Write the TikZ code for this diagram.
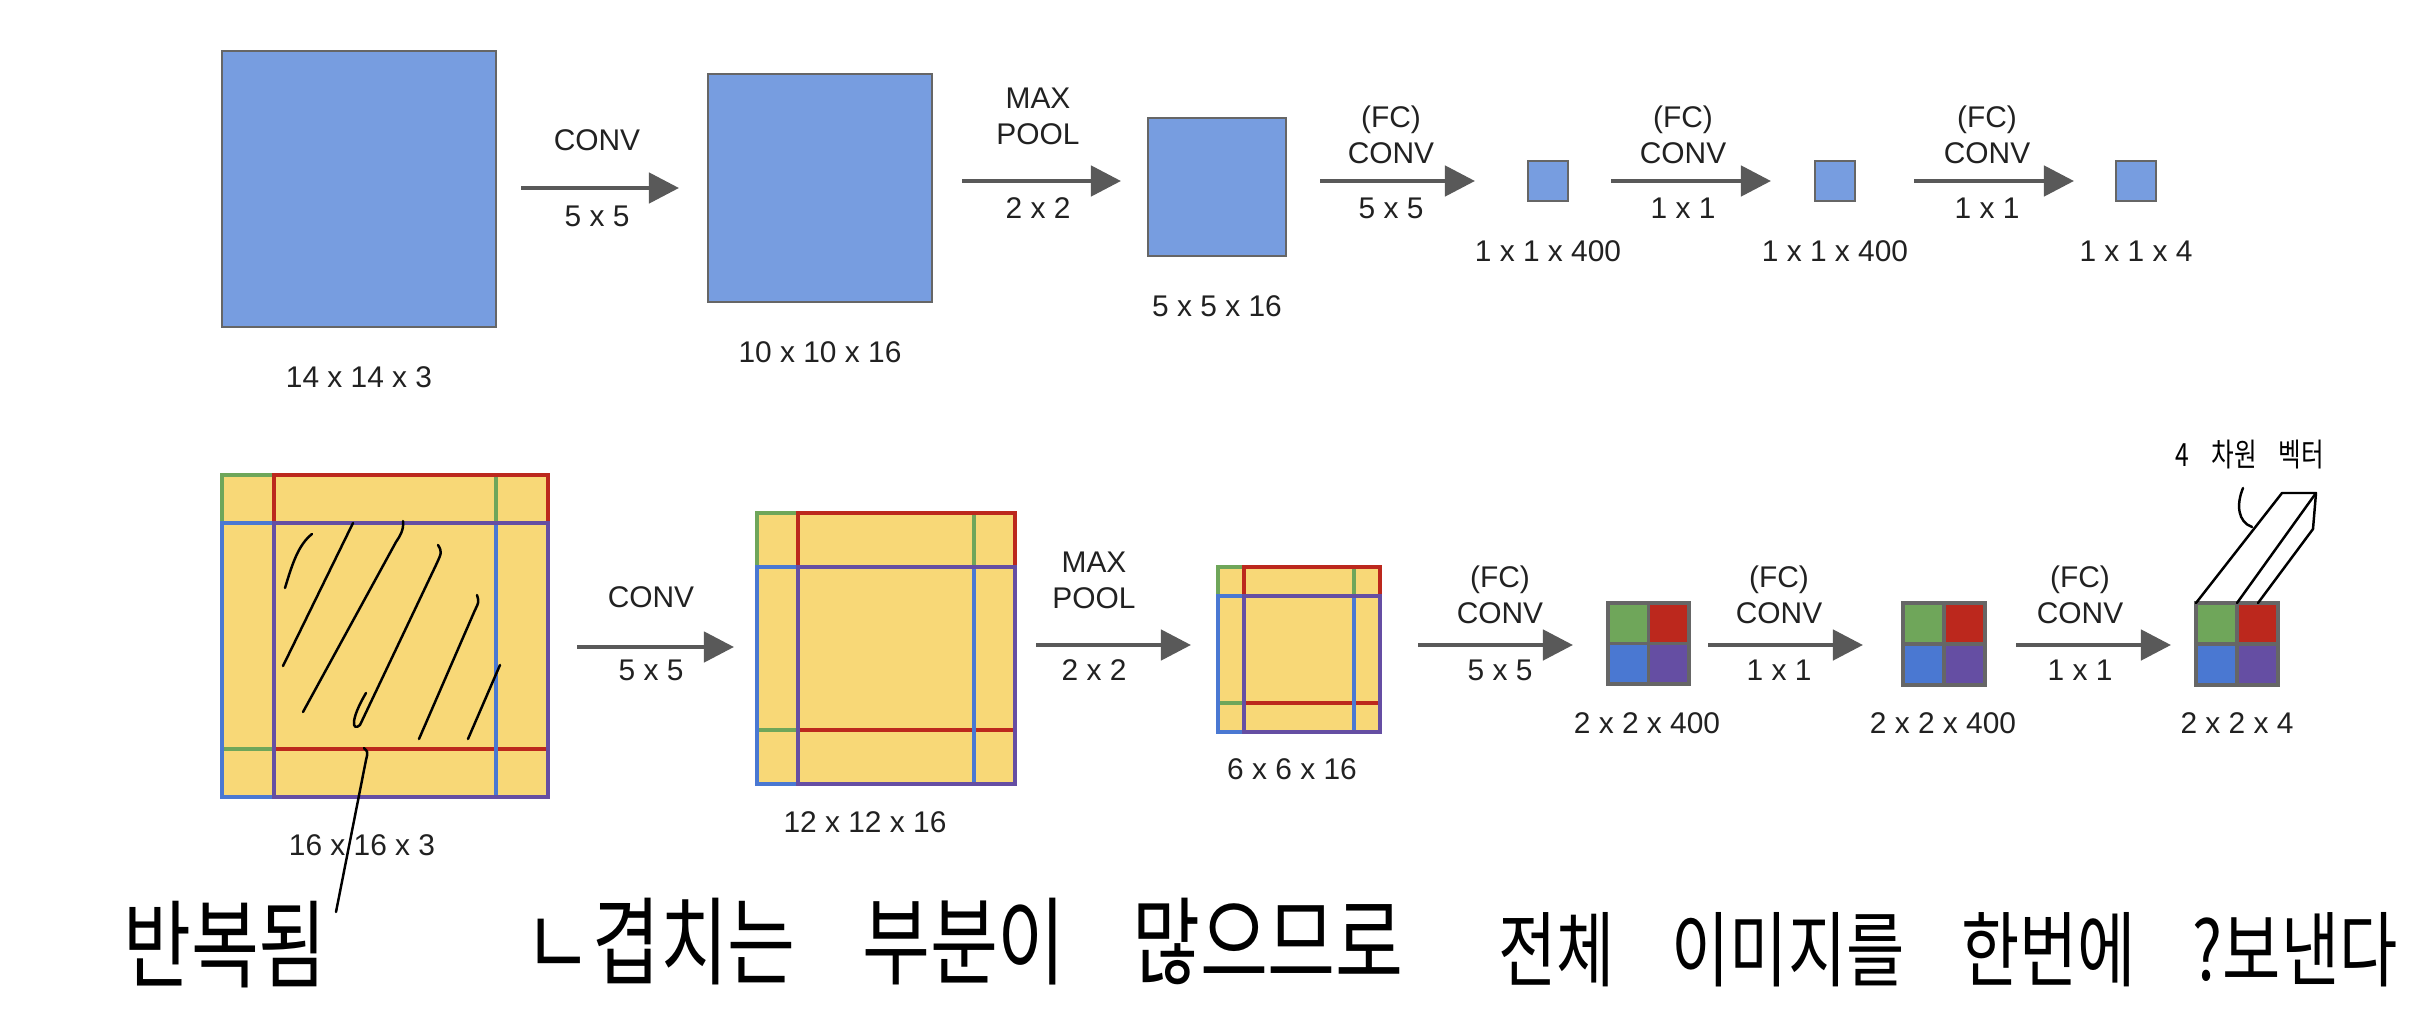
\documentclass[tikz,border=0pt]{standalone}
\usepackage{fontspec}
\setmainfont{Liberation Sans}
\newfontfamily\hand[WordSpace=4]{Noto Sans CJK KR}
\usetikzlibrary{arrows.meta}
\usetikzlibrary{positioning}
\definecolor{boxblue}{HTML}{779DE0}
\definecolor{boxedge}{HTML}{666666}
\definecolor{pad}{HTML}{F8D877}
\definecolor{wgreen}{HTML}{6FA65A}
\definecolor{wred}{HTML}{BC281D}
\definecolor{wblue}{HTML}{4A78D2}
\definecolor{wpurple}{HTML}{654EA3}
\definecolor{arrowgray}{HTML}{595959}
\tikzset{>={Triangle[length=3mm,width=3mm]}}
\tikzset{
    fmap/.style={draw=boxedge, line width=0.6pt, fill=boxblue, inner sep=0pt},
    flow/.style={->, draw=arrowgray, line width=1.3pt},
    lbl/.style={font=\fontsize{8.5}{10.3}\selectfont, text=black!87, align=center},
    win/.style={draw=#1, line width=1pt},
    ink/.style={line width=0.7pt, line cap=round, line join=round},
    note/.style={font=\hand\fontsize{#1}{#1}\selectfont, yscale=1.3, inner sep=0pt},
}
% yellow map with four overlapping windows: x, y, window, dx, dy
\newcommand{\padmap}[5]{%
    \fill[pad] (#1,#2) rectangle ++(#3+#4,#3+#5);
    \draw[win=wgreen] (#1,#2) rectangle ++(#3,#3);
    \draw[win=wred] (#1+#4,#2) rectangle ++(#3,#3);
    \draw[win=wblue] (#1,#2+#5) rectangle ++(#3,#3);
    \draw[win=wpurple] (#1+#4,#2+#5) rectangle ++(#3,#3);
}
% 2x2 output grid: x, y, size
\newcommand{\cellgrid}[3]{%
    \fill[wgreen] (#1,#2) rectangle ++(#3/2,#3/2);
    \fill[wred] (#1+#3/2,#2) rectangle ++(#3/2,#3/2);
    \fill[wblue] (#1,#2+#3/2) rectangle ++(#3/2,#3/2);
    \fill[wpurple] (#1+#3/2,#2+#3/2) rectangle ++(#3/2,#3/2);
    \draw[boxedge, line width=1pt] (#1,#2) rectangle ++(#3,#3)
        (#1+#3/2,#2) -- ++(0,#3) (#1,#2+#3/2) -- ++(#3,0);
}

\begin{document}
\begin{tikzpicture}[x=0.01cm, y=-0.01cm, node distance=0.265cm]
    \fill[white] (0,0) rectangle (2432,1012);
    \useasboundingbox (0,0) rectangle (2432,1012);

    % upper row
    \node[fmap, minimum width=2.74cm, minimum height=2.76cm] (b1) at (359,189) {};
    \node[fmap, minimum width=2.23cm, minimum height=2.28cm] (b2) at (820,188) {};
    \node[fmap, minimum size=1.38cm] (b3) at (1217,187) {};
    \node[fmap, minimum size=0.4cm] (b4) at (1548,181) {};
    \node[fmap, minimum size=0.4cm] (b5) at (1835,181) {};
    \node[fmap, minimum size=0.4cm] (b6) at (2136,181) {};
    \node[lbl, below=of b1] (s1) {14 x 14 x 3};
    \node[lbl, below=of b2] (s2) {10 x 10 x 16};
    \node[lbl, below=of b3] (s3) {5 x 5 x 16};
    \node[lbl, below=of b4] (s4) {1 x 1 x 400};
    \node[lbl, below=of b5] (s5) {1 x 1 x 400};
    \node[lbl, below=of b6] (s6) {1 x 1 x 4};

    \coordinate (u1) at (521,188); \coordinate (u1e) at (679,188);
    \coordinate (u2) at (962,181); \coordinate (u2e) at (1121,181);
    \coordinate (u3) at (1320,181); \coordinate (u3e) at (1475,181);
    \coordinate (u4) at (1611,181); \coordinate (u4e) at (1771,181);
    \coordinate (u5) at (1914,181); \coordinate (u5e) at (2074,181);
    \draw[flow] (u1) -- (u1e);
    \draw[flow] (u2) -- (u2e);
    \draw[flow] (u3) -- (u3e);
    \draw[flow] (u4) -- (u4e);
    \draw[flow] (u5) -- (u5e);
    \node[lbl] (t1) at (597,140) {CONV};
    \node[lbl] (k1) at (597,216) {5 x 5};
    \node[lbl] (t2) at (1038,116) {MAX\\POOL};
    \node[lbl] (k2) at (1038,208) {2 x 2};
    \node[lbl] (t3) at (1391,135) {(FC)\\CONV};
    \node[lbl] (k3) at (1391,208) {5 x 5};
    \node[lbl] (t4) at (1683,135) {(FC)\\CONV};
    \node[lbl] (k4) at (1683,208) {1 x 1};
    \node[lbl] (t5) at (1987,135) {(FC)\\CONV};
    \node[lbl] (k5) at (1987,208) {1 x 1};

    % lower row
    \padmap{222}{475}{274}{52}{48}
    \padmap{757}{513}{217}{41}{54}
    \padmap{1218}{567}{136}{26}{29}
    \cellgrid{1608}{603}{81}
    \cellgrid{1903}{603}{82}
    \cellgrid{2196}{603}{82}
    \node[lbl] (m1) at (362,845) {16 x 16 x 3};
    \node[lbl] (m2) at (865,822) {12 x 12 x 16};
    \node[lbl] (m3) at (1292,769) {6 x 6 x 16};
    \node[lbl] (m4) at (1647,723) {2 x 2 x 400};
    \node[lbl] (m5) at (1943,723) {2 x 2 x 400};
    \node[lbl] (m6) at (2237,723) {2 x 2 x 4};

    \coordinate (v1) at (577,647); \coordinate (v1e) at (734,647);
    \coordinate (v2) at (1036,645); \coordinate (v2e) at (1191,645);
    \coordinate (v3) at (1418,645); \coordinate (v3e) at (1573,645);
    \coordinate (v4) at (1708,645); \coordinate (v4e) at (1863,645);
    \coordinate (v5) at (2016,645); \coordinate (v5e) at (2171,645);
    \draw[flow] (v1) -- (v1e);
    \draw[flow] (v2) -- (v2e);
    \draw[flow] (v3) -- (v3e);
    \draw[flow] (v4) -- (v4e);
    \draw[flow] (v5) -- (v5e);
    \node[lbl] (n1) at (651,597) {CONV};
    \node[lbl] (j1) at (651,670) {5 x 5};
    \node[lbl] (n2) at (1094,580) {MAX\\POOL};
    \node[lbl] (j2) at (1094,670) {2 x 2};
    \node[lbl] (n3) at (1500,595) {(FC)\\CONV};
    \node[lbl] (j3) at (1500,670) {5 x 5};
    \node[lbl] (n4) at (1779,595) {(FC)\\CONV};
    \node[lbl] (j4) at (1779,670) {1 x 1};
    \node[lbl] (n5) at (2080,595) {(FC)\\CONV};
    \node[lbl] (j5) at (2080,670) {1 x 1};

    % pen marks
    \draw[ink] (312,534) .. controls (298,545) and (292,565) .. (285,588);
    \draw[ink] (353,523) -- (283,666);
    \draw[ink] (403,521) .. controls (404,530) and (400,536) .. (396,542) -- (303,712);
    \draw[ink] (438,545) .. controls (442,552) .. (436,565) -- (360,725)
        .. controls (352,732) and (350,720) .. (366,693);
    \draw[ink] (477,595) .. controls (479,602) .. (475,610) -- (419,739);
    \draw[ink] (500,665) -- (468,739);
    \draw[ink] (364,748) .. controls (368,752) .. (366,760) -- (336,912);
    \draw[ink] (2196,603) -- (2282,493) -- (2316,493) -- (2313,529) -- (2258,603);
    \draw[ink] (2237,603) -- (2316,493);
    \draw[ink] (2243,488) .. controls (2236,505) and (2238,522) .. (2252,527);
    \node[note=7] (h0) at (2250,455) {4 차원 벡터};
    \node[note=21] (h1) at (225,945) {반복됨};
    \node[note=21] (h2) at (964,942) {ㄴ겹치는 부분이 많으므로};
    \node[note=18] (h3) at (1948,950) {전체 이미지를 한번에 ?보낸다};
\end{tikzpicture}
\end{document}
